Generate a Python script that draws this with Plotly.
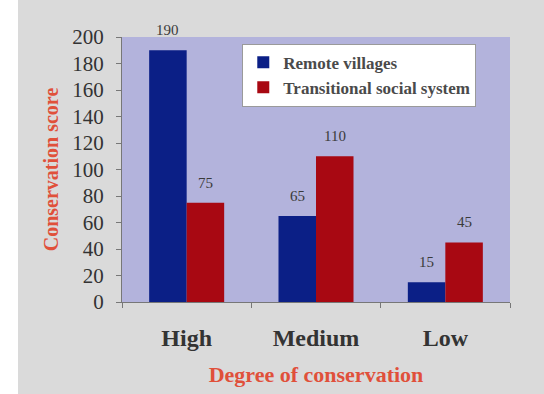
import plotly.graph_objects as go

categories = ["High", "Medium", "Low"]
remote_villages = [190, 65, 15]
transitional_system = [75, 110, 45]
series_names = ["Remote villages", "Transitional social system"]
y_ticks = list(range(0, 201, 20))

serif = "'Liberation Serif', 'Times New Roman', serif"
W, H = 544, 394
margin = dict(l=122, r=34, t=37, b=92)
bargap = 0.42

fig = go.Figure()
fig.add_trace(go.Bar(
    x=categories, y=remote_villages, name=series_names[0],
    marker=dict(color="#0b1f86", line=dict(width=0)),
))
fig.add_trace(go.Bar(
    x=categories, y=transitional_system, name=series_names[1],
    marker=dict(color="#a80812", line=dict(width=0)),
))

# value labels above each bar, offset to the centre of each grouped bar
plot_w = W - margin["l"] - margin["r"]
bar_px = plot_w / len(categories) * (1 - bargap) / 2
for values, dx in ((remote_villages, -bar_px / 2), (transitional_system, bar_px / 2)):
    for cat, v in zip(categories, values):
        fig.add_annotation(
            x=cat, y=v, text=str(v), showarrow=False,
            xshift=dx, yshift=10, yanchor="bottom",
            font=dict(family=serif, size=15, color="#3a3a3a"),
        )

fig.update_layout(
    width=W, height=H,
    margin=margin,
    paper_bgcolor="#dadada",
    plot_bgcolor="#b3b3dc",
    barmode="group", bargap=bargap, bargroupgap=0,
    showlegend=True,
    legend=dict(
        x=0.31, y=0.975, xanchor="left", yanchor="top",
        bgcolor="white", bordercolor="#9a9a9a", borderwidth=1,
        font=dict(family=serif, size=17, color="#4a4a4a", weight="bold"),
        itemwidth=30, tracegroupgap=0,
    ),
    font=dict(family=serif),
    shapes=[dict(
        type="rect", xref="paper", yref="paper", layer="below",
        x0=-0.32, x1=-0.268, y0=-0.4, y1=1.2,
        fillcolor="white", line=dict(width=0),
    )],
)

fig.update_xaxes(
    automargin=False,
    showline=True, linecolor="#777777", linewidth=1,
    ticks="outside", tickson="boundaries", ticklen=5, tickcolor="#777777",
    ticklabelstandoff=14,
    tickfont=dict(family=serif, size=24, color="#333333", weight="bold"),
    title=dict(text="<b>Degree of conservation</b>",
               font=dict(family=serif, size=22, color="#e0503a"), standoff=16),
)
fig.update_yaxes(
    automargin=False,
    range=[0, 200], tickvals=y_ticks,
    showgrid=False, zeroline=False,
    showline=True, linecolor="#777777", linewidth=1,
    ticks="outside", ticklen=5, tickcolor="#777777",
    ticklabelstandoff=8,
    tickfont=dict(family=serif, size=21, color="#333333"),
    title=dict(text="<b>Conservation score</b>",
               font=dict(family=serif, size=20, color="#e0503a"), standoff=8),
)

fig.write_html("out.html")
